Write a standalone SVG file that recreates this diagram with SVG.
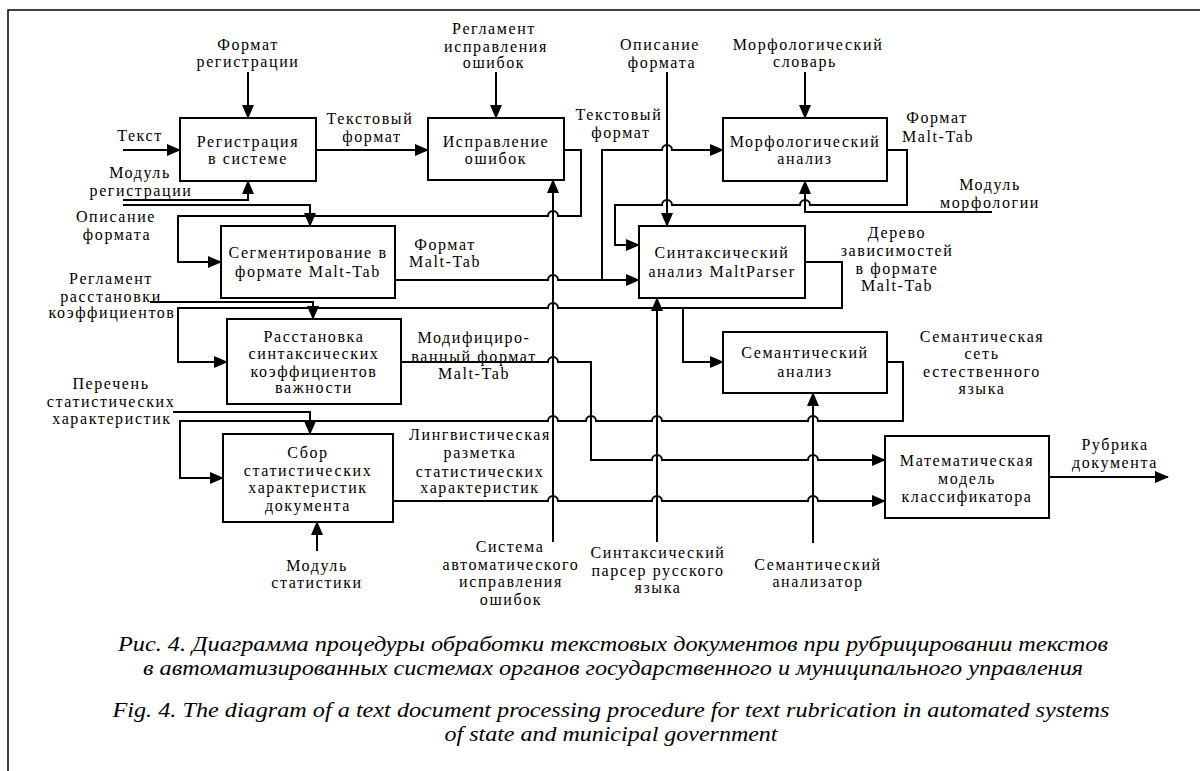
<svg xmlns="http://www.w3.org/2000/svg" width="1200" height="771" viewBox="0 0 1200 771">
<style>
.b{fill:#fff;stroke:#000;stroke-width:2}
.c{fill:none;stroke:#000;stroke-width:2;marker-end:url(#ah)}
text{font-family:"Liberation Serif","Times New Roman",serif;font-size:16px;letter-spacing:1.6px;text-anchor:middle;fill:#000}
.cap{font-style:italic;font-size:22px;letter-spacing:0}
</style>
<defs>
<marker id="ah" markerWidth="14" markerHeight="12" refX="13" refY="6" orient="auto" markerUnits="userSpaceOnUse"><path d="M0,0 L14,6 L0,12 z" fill="#000"/></marker>
</defs>
<rect width="1200" height="771" fill="#fff"/>
<path d="M8,771 V10 H1200" fill="none" stroke="#000" stroke-width="1.5"/>

<g id="connectors">
<path class="c" d="M248,72 V118"/>
<path class="c" d="M123,150 H180"/>
<path class="c" d="M123,200 H248 V181"/>
<path class="c" d="M316,150 H428"/>
<path class="c" d="M496,72 V118"/>
<path class="c" d="M123,205 H310 V226"/>
<path class="c" d="M564,150 H581 V216 H558 a5,5 0 0 0 -10,0 H178 V262 H221"/>
<path class="c" d="M395,280 H548 a5,5 0 0 1 10,0 H639"/>
<path class="c" d="M602,280 V150 H662 a5,5 0 0 1 10,0 H723"/>
<path class="c" d="M667,72 V226"/>
<path class="c" d="M805,72 V118"/>
<path class="c" d="M887,150 H907 V205 H810 a5,5 0 0 0 -10,0 H672 a5,5 0 0 0 -10,0 H615 V245 H639"/>
<path class="c" d="M992,212 H805 V181"/>
<path class="c" d="M805,262 H842 V308 H558 a5,5 0 0 0 -10,0 H178 V362 H227"/>
<path class="c" d="M683,308 V362 H723"/>
<path class="c" d="M150,302 H313 V319"/>
<path class="c" d="M401,362 H548 a5,5 0 0 1 10,0 H591 V460 H652 a5,5 0 0 1 10,0 H808 a5,5 0 0 1 10,0 H885"/>
<path class="c" d="M887,362 H903 V421 H818 a5,5 0 0 0 -10,0 H662 a5,5 0 0 0 -10,0 H596 a5,5 0 0 0 -10,0 H558 a5,5 0 0 0 -10,0 H180 V478 H223"/>
<path class="c" d="M173,412 H310 V434"/>
<path class="c" d="M393,501 H548 a5,5 0 0 1 10,0 H652 a5,5 0 0 1 10,0 H808 a5,5 0 0 1 10,0 H885"/>
<path class="c" d="M317,551 V522"/>
<path class="c" d="M553,542 V180"/>
<path class="c" d="M657,542 V298"/>
<path class="c" d="M813,543 V393"/>
<path class="c" d="M1049,477 H1168"/>
</g>

<g id="labels">
<text x="248" y="50">Формат</text><text x="248" y="67">регистрации</text>
<text x="140" y="141">Текст</text>
<text x="140" y="178">Модуль</text><text x="141" y="196">регистрации</text>
<text x="116" y="222">Описание</text><text x="117" y="240">формата</text>
<text x="370" y="124">Текстовый</text><text x="372" y="142">формат</text>
<text x="494" y="34">Регламент</text><text x="496" y="52">исправления</text><text x="494" y="68">ошибок</text>
<text x="619" y="120">Текстовый</text><text x="621" y="138">формат</text>
<text x="660" y="50">Описание</text><text x="662" y="68">формата</text>
<text x="808" y="50">Морфологический</text><text x="805" y="67">словарь</text>
<text x="937" y="123">Формат</text><text x="938" y="142">Malt-Tab</text>
<text x="990" y="190">Модуль</text><text x="990" y="208">морфологии</text>
<text x="445" y="250">Формат</text><text x="445" y="267">Malt-Tab</text>
<text x="897" y="238">Дерево</text><text x="897" y="256">зависимостей</text><text x="897" y="274">в формате</text><text x="897" y="291">Malt-Tab</text>
<text x="111" y="284">Регламент</text><text x="111" y="302">расстановки</text><text x="112" y="318">коэффициентов</text>
<text x="111" y="389">Перечень</text><text x="111" y="407">статистических</text><text x="112" y="424">характеристик</text>
<text x="474" y="343">Модифициро-</text><text x="474" y="362">ванный формат</text><text x="474" y="379">Malt-Tab</text>
<text x="982" y="342">Семантическая</text><text x="982" y="359">сеть</text><text x="982" y="377">естественного</text><text x="982" y="394">языка</text>
<text x="480" y="440">Лингвистическая</text><text x="480" y="458">разметка</text><text x="480" y="477">статистических</text><text x="480" y="493">характеристик</text>
<text x="317" y="571">Модуль</text><text x="317" y="588">статистики</text>
<text x="510" y="552">Система</text><text x="511" y="570">автоматического</text><text x="511" y="587">исправления</text><text x="511" y="605">ошибок</text>
<text x="658" y="558">Синтаксический</text><text x="658" y="576">парсер русского</text><text x="658" y="593">языка</text>
<text x="818" y="570">Семантический</text><text x="818" y="587">анализатор</text>
<text x="1115" y="450">Рубрика</text><text x="1115" y="468">документа</text>
</g>

<g id="n1"><rect class="b" x="180" y="118" width="136" height="63"/><text x="248" y="147">Регистрация</text><text x="248" y="164">в системе</text></g>
<g id="n2"><rect class="b" x="428" y="118" width="136" height="62"/><text x="496" y="147">Исправление</text><text x="496" y="164">ошибок</text></g>
<g id="n3"><rect class="b" x="723" y="118" width="164" height="63"/><text x="805" y="147">Морфологический</text><text x="805" y="164">анализ</text></g>
<g id="n4"><rect class="b" x="221" y="226" width="174" height="72"/><text x="308" y="258">Сегментирование в</text><text x="308" y="277">формате Malt-Tab</text></g>
<g id="n5"><rect class="b" x="639" y="226" width="166" height="72"/><text x="722" y="258">Синтаксический</text><text x="722" y="277">анализ MaltParser</text></g>
<g id="n6"><rect class="b" x="227" y="319" width="174" height="85"/><text x="314" y="342">Расстановка</text><text x="314" y="359">синтаксических</text><text x="314" y="377">коэффициентов</text><text x="314" y="393">важности</text></g>
<g id="n7"><rect class="b" x="723" y="332" width="164" height="61"/><text x="805" y="358">Семантический</text><text x="805" y="377">анализ</text></g>
<g id="n8"><rect class="b" x="223" y="434" width="170" height="88"/><text x="308" y="458">Сбор</text><text x="308" y="476">статистических</text><text x="308" y="493">характеристик</text><text x="308" y="511">документа</text></g>
<g id="n9"><rect class="b" x="885" y="436" width="164" height="82"/><text x="967" y="466">Математическая</text><text x="967" y="484">модель</text><text x="967" y="502">классификатора</text></g>

<g id="caption">
<text class="cap" x="613" y="651" textLength="990" lengthAdjust="spacingAndGlyphs">Рис. 4. Диаграмма процедуры обработки текстовых документов при рубрицировании текстов</text>
<text class="cap" x="613" y="675" textLength="940" lengthAdjust="spacingAndGlyphs">в автоматизированных системах органов государственного и муниципального управления</text>
<text class="cap" x="611" y="717" textLength="997" lengthAdjust="spacingAndGlyphs">Fig. 4. The diagram of a text document processing procedure for text rubrication in automated systems</text>
<text class="cap" x="611" y="741" textLength="333" lengthAdjust="spacingAndGlyphs">of state and municipal government</text>
</g>
</svg>
